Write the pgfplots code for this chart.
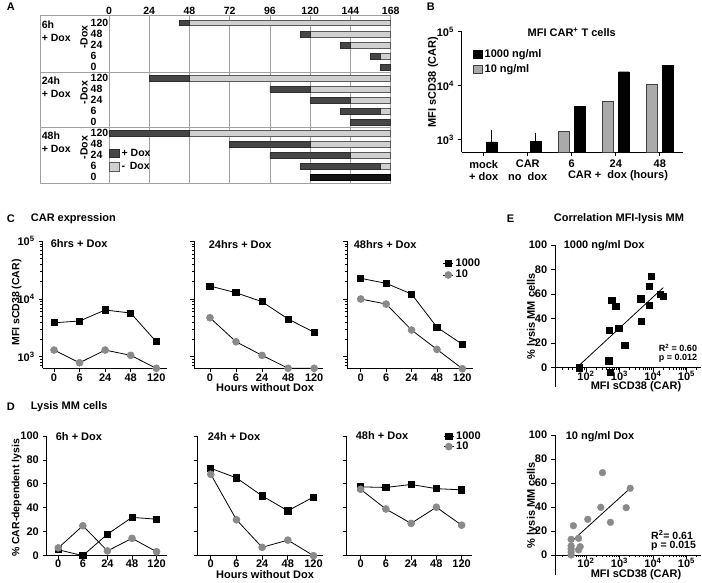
\documentclass[border=0pt]{standalone}
\usepackage{fontspec}
\setmainfont{Liberation Sans}
\usepackage{pgfplots}
\usepackage{pgfplotstable}
\pgfplotsset{compat=1.18}
\definecolor{darkbar}{HTML}{464646}
\definecolor{darkedge}{HTML}{2E2E2E}
\definecolor{lightbar}{HTML}{D0D0D0}
\definecolor{lightedge}{HTML}{5A5A5A}
\definecolor{gm}{HTML}{8A8A8A}
\definecolor{gridc}{HTML}{A0A0A0}
\definecolor{gbar}{HTML}{AAAAAA}

\pgfplotstableread{
r s d l b
1 42 6 120 0
2 114 6 48 0
3 138 6 24 0
4 156 6 6 0
5 162 6 0 0
6 24 24 120 0
7 96 24 48 0
8 120 24 24 0
9 138 24 6 0
10 144 24 0 0
11 0 48 120 0
12 72 48 48 0
13 96 48 24 0
14 114 48 6 0
15 120 0 0 48
}\Adata

\newcommand{\fs}{\fontsize{11}{12.5}\selectfont\bfseries}
\newcommand{\fa}{\fontsize{10.5}{12}\selectfont\bfseries}
\newcommand{\fl}{\fontsize{10.5}{12}\selectfont\bfseries}
\tikzset{an/.style={anchor=west, inner sep=0pt, font=\fa}, ar/.style={rotate=90, inner sep=0pt, font=\fa}}
\pgfplotsset{
 gp/.style={scale only axis, clip=false,
  axis x line*=bottom, axis y line*=left, tick align=outside,
  axis line style={black, line width=0.9pt}, tick style={black, line width=0.8pt},
  major tick length=4pt, minor tick length=2.2pt,
  tick label style={font=\fs}},
 cst/.style={ymin=631, ymax=1e5, height=127pt,
  ytick={1e3,1e4,1e5}, minor ytick={700,800,900,2000,3000,4000,5000,6000,7000,8000,9000,20000,30000,40000,50000,60000,70000,80000,90000},
  xtick={0,1,2,3,4}, xticklabels={0,6,24,48,120}, xticklabel style={yshift=2pt}},
 dst/.style={ymin=0, ymax=100, height=119.7pt, ytick={0,20,40,60,80,100},
  xtick={0,1,2,3,4}, xticklabels={0,6,24,48,120}, xticklabel style={yshift=4pt}},
 est/.style={scale only axis, clip=false, xmin=11.885, xmax=271000, width=146pt,
  axis y line*=left, axis x line*=middle, tick align=outside,
  axis line style={black, line width=0.9pt}, tick style={black, line width=0.8pt},
  major tick length=4pt, minor tick length=2.2pt, tick label style={font=\fs},
  xticklabel style={yshift=4.5pt},
  xtick={1e2,1e3,1e4,1e5}, xticklabels={10\textsuperscript{2},10\textsuperscript{3},10\textsuperscript{4},10\textsuperscript{5}},
  minor xtick={20,30,40,50,60,70,80,90,200,300,400,500,600,700,800,900,2000,3000,4000,5000,6000,7000,8000,9000,20000,30000,40000,50000,60000,70000,80000,90000,200000},
  ymax=100, ytick={0,20,40,60,80,100}, yticklabels={0,20,40,60,80,100}},
 blk/.style={black, line width=0.8pt, mark=square*, mark size=3.1pt, mark options={solid, fill=black}},
 gry/.style={black, line width=0.8pt, mark=*, mark size=3.4pt, mark options={solid, fill=gm, draw=gm}},
}

\begin{document}
\fs
\begin{tikzpicture}[font=\fs]
\useasboundingbox (0pt,0pt) rectangle (702pt,583pt);

% ---------------- Panel A
\begin{axis}[scale only axis, anchor=south west, at={(40pt,399.7pt)}, width=350.7pt, height=168.3pt, clip=false,
  xmin=-41.1, xmax=168, ymin=0.274, ymax=15.54, y dir=reverse,
  xbar stacked, bar width=5.5pt,
  xtick={0,24,48,72,96,120,144,168}, xticklabels={0,24,48,72,96,120,144,168}, xticklabel pos=upper,
  xmajorgrids, major grid style={gridc, line width=0.7pt},
  major tick length=0pt, xticklabel style={font=\fa, inner sep=0pt, anchor=south, yshift=0.5pt},
  ytick=\empty, extra y ticks={5.5,10.5}, extra y tick labels={},
  extra y tick style={ymajorgrids=true, major grid style={gridc, line width=0.8pt}},
  axis line style={gridc, line width=0.8pt},
  legend style={at={(0.195,0.215)}, anchor=north west, draw=none, fill=none, font=\fa, row sep=0.5pt, inner sep=0pt, legend cell align=left},
  legend image code/.code={\draw[#1, line width=0.6pt] (0pt,-4pt) rectangle (10.5pt,4.5pt);},
]
\addplot[draw=none, fill=none, forget plot] table[x=s, y=r] \Adata;
\addplot[fill=darkbar, draw=darkedge, line width=0.5pt] table[x=d, y=r] \Adata;
\addlegendentry{+ Dox}
\addplot[fill=lightbar, draw=lightedge, line width=0.5pt] table[x=l, y=r] \Adata;
\addlegendentry{-\ \,Dox}
\addplot[fill=black!92, draw=black, line width=0.5pt, forget plot] table[x=b, y=r] \Adata;
\node[an] at (axis cs:-40.1,1.2) {6h};
\node[an] at (axis cs:-40.1,2.4) {+ Dox};
\node[an] at (axis cs:-40.1,6.2) {24h};
\node[an] at (axis cs:-40.1,7.4) {+ Dox};
\node[an] at (axis cs:-40.1,11.2) {48h};
\node[an] at (axis cs:-40.1,12.4) {+ Dox};
\node[ar] at (axis cs:-14.9,2.3) {-Dox};
\node[ar] at (axis cs:-14.9,7.3) {-Dox};
\node[ar] at (axis cs:-14.9,12.3) {-Dox};
\node[an] at (axis cs:-11,1) {120};
\node[an] at (axis cs:-11,2) {48};
\node[an] at (axis cs:-11,3) {24};
\node[an] at (axis cs:-11,4) {6};
\node[an] at (axis cs:-11,5) {0};
\node[an] at (axis cs:-11,6) {120};
\node[an] at (axis cs:-11,7) {48};
\node[an] at (axis cs:-11,8) {24};
\node[an] at (axis cs:-11,9) {6};
\node[an] at (axis cs:-11,10) {0};
\node[an] at (axis cs:-11,11) {120};
\node[an] at (axis cs:-11,12) {48};
\node[an] at (axis cs:-11,13) {24};
\node[an] at (axis cs:-11,14) {6};
\node[an] at (axis cs:-11,15) {0};
\end{axis}

% ---------------- Panel B
\begin{axis}[gp, anchor=south west, at={(461.7pt,430.7pt)}, width=221pt, height=120.6pt,
  ymode=log, log origin y=infty, ymin=589, ymax=1e5, xmin=-0.5, xmax=4.52,
  ytick={1e3,1e4,1e5}, yticklabels={10\textsuperscript{3},10\textsuperscript{4},10\textsuperscript{5}}, yminorticks=false,
  xtick={0,1,2,3,4}, xticklabels={{mock\\+ dox},{CAR\\no\ \ dox},6,24,48},
  xticklabel style={align=center, font=\fs},
  ybar, bar width=10.5pt,
  legend style={at={(0.05,0.873)}, anchor=north west, draw=none, fill=none, font=\fs, row sep=1.5pt, inner sep=0pt, legend cell align=left},
  legend image code/.code={\draw[#1, line width=0.7pt] (0pt,-4pt) rectangle (9pt,4pt);},
]
\addplot[fill=black, draw=black, bar shift=8pt, error bars/.cd, y dir=plus, y explicit, error bar style={line width=1pt}, error mark options={line width=1pt, mark size=3pt}] coordinates {(0,920) +- (0,440) (1,940) +- (0,260)};
\addlegendentry{1000 ng/ml}
\addplot[fill=black, draw=black, bar shift=8pt, forget plot] coordinates {(2,4110) (3,18200) (4,24200)};
\addplot[fill=gbar, draw=black!75, line width=0.7pt, bar shift=-8pt] coordinates {(2,1420) (3,5080) (4,10700)};
\addlegendentry{10 ng/ml}
\end{axis}

% ---------------- Panel C
\begin{axis}[gp, cst, ymode=log, anchor=south west, at={(42.5pt,214.7pt)}, width=124pt, xmin=-0.45, xmax=4.4,
  yticklabels={10\textsuperscript{3},10\textsuperscript{4},10\textsuperscript{5}}]
\addplot[blk] coordinates {(0,3880)(1,4160)(2,6460)(3,5710)(4,1820)};
\addplot[gry] coordinates {(0,1306)(1,787)(2,1306)(3,1057)(4,631)};
\end{axis}
\begin{axis}[gp, cst, ymode=log, anchor=south west, at={(194.3pt,214.7pt)}, width=129pt, xmin=-0.6, xmax=4.35, yticklabels={}]
\addplot[blk] coordinates {(0,16800)(1,12850)(2,8980)(3,4500)(4,2650)};
\addplot[gry] coordinates {(0,4740)(1,1820)(2,1057)(3,631)(4,631)};
\end{axis}
\begin{axis}[gp, cst, ymode=log, anchor=south west, at={(347.3pt,214.7pt)}, width=126pt, xmin=-0.53, xmax=4.43, yticklabels={},
  legend style={at={(0.757,0.878)}, anchor=north west, draw=none, fill=none, font=\fs, row sep=-2pt, inner sep=0pt, legend cell align=left},
  legend image code/.code={\draw[mark repeat=2, mark phase=2, #1] plot coordinates {(0pt,0pt) (5pt,0pt) (10pt,0pt)};}]
\addplot[blk] coordinates {(0,22800)(1,18700)(2,12200)(3,3240)(4,1640)};
\addlegendentry{1000}
\addplot[gry] coordinates {(0,10000)(1,8180)(2,2900)(3,1340)(4,620)};
\addlegendentry{10}
\end{axis}

% ---------------- Panel D
\begin{axis}[gp, dst, anchor=south west, at={(46.7pt,27.3pt)}, width=120pt, xmin=-0.47, xmax=4.41,
  yticklabels={0,20,40,60,80,100}]
\addplot[blk] coordinates {(0,5)(1,0)(2,18)(3,32)(4,30.5)};
\addplot[gry] coordinates {(0,6.5)(1,25)(2,4)(3,14.5)(4,3.3)};
\end{axis}
\begin{axis}[gp, dst, anchor=south west, at={(197.7pt,27.3pt)}, width=125.3pt, xmin=-0.51, xmax=4.37, yticklabels={}]
\addplot[blk] coordinates {(0,73)(1,65)(2,50)(3,37.5)(4,49)};
\addplot[gry] coordinates {(0,68)(1,30)(2,7)(3,13)(4,0)};
\end{axis}
\begin{axis}[gp, dst, anchor=south west, at={(346.7pt,27.3pt)}, width=125pt, xmin=-0.55, xmax=4.40, yticklabels={},
  legend style={at={(0.772,1.055)}, anchor=north west, draw=none, fill=none, font=\fs, row sep=-3pt, inner sep=0pt, legend cell align=left},
  legend image code/.code={\draw[mark repeat=2, mark phase=2, #1] plot coordinates {(0pt,0pt) (5pt,0pt) (10pt,0pt)};}]
\addplot[blk] coordinates {(0,57.5)(1,57)(2,59.5)(3,56)(4,55)};
\addlegendentry{1000}
\addplot[gry] coordinates {(0,55.5)(1,39)(2,27)(3,40.5)(4,25.5)};
\addlegendentry{10}
\end{axis}

% ---------------- Panel E
\begin{axis}[est, xmode=log, anchor=south west, at={(555pt,196.3pt)}, height=141.7pt, ymin=-15.5]
\addplot[black, line width=0.8pt, no marks] coordinates {(52.7,0) (20300,65.3)};
\addplot[only marks, mark=square*, mark size=3.1pt, black] coordinates {
(63,0) (486,30.8) (476,5.7) (531,-3.8) (585,55.3) (771,49.8) (946,32.2) (1430,18)
(4300,56.3) (4480,38.1) (7600,51.2) (7600,66.1) (8890,74.3) (16500,60.2) (20300,58)};
\end{axis}
\begin{axis}[est, xmode=log, anchor=south west, at={(555pt,8pt)}, height=140pt, ymin=-16.7]
\addplot[black, line width=0.8pt, no marks] coordinates {(36,11) (2086,55.6)};
\addplot[only marks, mark=*, mark size=3.4pt, gm] coordinates {
(36,0) (36,2.5) (36,5) (36,7.5) (36,13) (42,24.4) (60,13.9) (60,4.2) (67,6.9)
(113,29.7) (277,39.7) (311,68.6) (538,27.2) (1585,39.4) (2086,55.6)};
\end{axis}

% ---------------- Texts
\node[anchor=west] at (3pt,576pt) {A};
\node[anchor=west] at (423pt,576pt) {B};
\node[anchor=west] at (3pt,364.7pt) {C};
\node[anchor=west] at (27pt,364.7pt) {CAR expression};
\node[anchor=west] at (3pt,176pt) {D};
\node[anchor=west] at (27pt,176pt) {Lysis MM cells};
\node[anchor=west] at (503pt,364.7pt) {E};
\node[anchor=west] at (550pt,364.7pt) {Correlation MFI-lysis MM};

\node at (571.7pt,551pt) {MFI CAR\textsuperscript{+} T cells};
\node[rotate=90] at (433pt,501pt) {MFI sCD38 (CAR)};
\node at (618pt,407pt) {CAR +\ \ dox (hours)};

\node[anchor=west] at (47pt,339pt) {6hrs + Dox};
\node[anchor=west] at (205pt,338pt) {24hrs + Dox};
\node[anchor=west] at (350pt,338pt) {48hrs + Dox};
\node[rotate=90, font=\fl] at (16.7pt,280.5pt) {MFI sCD38 (CAR)};
\node at (265pt,195.5pt) {Hours without Dox};

\node[anchor=west] at (52pt,146pt) {6h + Dox};
\node[anchor=west] at (204pt,146pt) {24h + Dox};
\node[anchor=west] at (352pt,147pt) {48h + Dox};
\node[rotate=90, font=\fl] at (16.7pt,85pt) {\% CAR-dependent lysis};
\node at (265pt,8.5pt) {Hours without Dox};

\node[anchor=west] at (560pt,337pt) {1000 ng/ml Dox};
\node[anchor=west] at (562pt,146pt) {10 ng/ml Dox};
\node[rotate=90] at (532pt,266.5pt) {\% lysis MM cells};
\node[rotate=90] at (532pt,78pt) {\% lysis MM cells};
\node at (636pt,196pt) {MFI sCD38 (CAR)};
\node at (636pt,8.5pt) {MFI sCD38 (CAR)};
\node[anchor=west, inner sep=0pt, font=\fontsize{9}{10}\selectfont\bfseries] at (658.7pt,235pt) {R\textsuperscript{2} = 0.60};
\node[anchor=west, inner sep=0pt, font=\fontsize{9}{10}\selectfont\bfseries] at (658.7pt,224.5pt) {p = 0.012};
\node[anchor=west, inner sep=0pt, font=\fl] at (651pt,48pt) {R\textsuperscript{2}= 0.61};
\node[anchor=west, inner sep=0pt, font=\fl] at (651pt,37pt) {p = 0.015};
\end{tikzpicture}
\end{document}
